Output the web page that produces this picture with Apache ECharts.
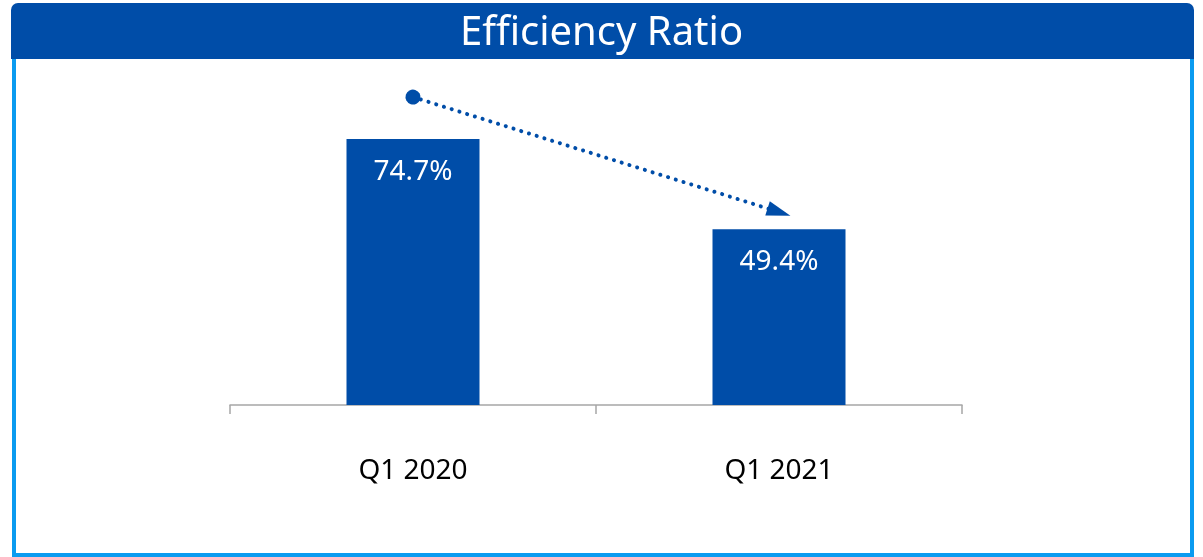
<!DOCTYPE html>
<html>
<head>
<meta charset="utf-8">
<script src="https://cdn.jsdelivr.net/npm/echarts@6/dist/echarts.min.js"></script>
<style>
  html, body { margin: 0; padding: 0; background: #fff; }
  #chart { width: 1203px; height: 557px; }
</style>
</head>
<body>
<div id="chart"></div>
<script>
// 数据
var categories = ['Q1 2020', 'Q1 2021'];
var ratios = [74.7, 49.4];
// 箭头两端（数值刻度上的位置）
var arrowValues = [86.5, 54.2];

var blue = '#004DA8';
var frameBlue = '#0A9BF0';

var myChart = echarts.init(document.getElementById('chart'));

var option = {
    animation: false,
    graphic: [
        { type: 'rect', shape: { x: 11, y: 3, width: 1183, height: 56, r: [7, 7, 0, 0] }, style: { fill: blue } },
        { type: 'rect', shape: { x: 12, y: 59, width: 4, height: 498 }, style: { fill: frameBlue } },
        { type: 'rect', shape: { x: 1190, y: 59, width: 4, height: 498 }, style: { fill: frameBlue } },
        { type: 'rect', shape: { x: 12, y: 553, width: 1182, height: 4 }, style: { fill: frameBlue } }
    ],
    title: {
        text: 'Efficiency Ratio',
        left: 'center',
        top: 9,
        textStyle: {
            color: '#fff',
            fontFamily: 'Noto Sans',
            fontWeight: 'normal',
            fontSize: 40
        }
    },
    grid: {
        left: 230,
        right: 241,
        top: 49,
        bottom: 152
    },
    xAxis: {
        type: 'category',
        data: categories,
        axisLine: { lineStyle: { color: '#A6A6A6', width: 1.5 } },
        axisTick: { show: true, length: 9, lineStyle: { color: '#A6A6A6', width: 1.5 } },
        axisLabel: {
            color: '#000',
            fontFamily: 'Noto Sans',
            fontSize: 28,
            margin: 52
        }
    },
    yAxis: {
        type: 'value',
        min: 0,
        max: 100,
        show: false,
        splitLine: { show: false }
    },
    series: [
        {
            type: 'bar',
            data: ratios,
            barWidth: 133,
            itemStyle: { color: blue },
            label: {
                show: true,
                position: 'insideTop',
                distance: 19,
                color: '#fff',
                fontFamily: 'Noto Sans',
                fontSize: 28,
                formatter: function (p) { return p.value.toFixed(1) + '%'; }
            },
            markLine: {
                silent: true,
                symbol: ['circle', 'triangle'],
                symbolSize: [15, 24],
                label: { show: false },
                lineStyle: { color: blue, width: 4, type: [0.1, 8], cap: 'round' },
                data: [[
                    { coord: [categories[0], arrowValues[0]] },
                    { coord: [categories[1], arrowValues[1]] }
                ]]
            }
        }
    ]
};

myChart.setOption(option);
</script>
</body>
</html>
